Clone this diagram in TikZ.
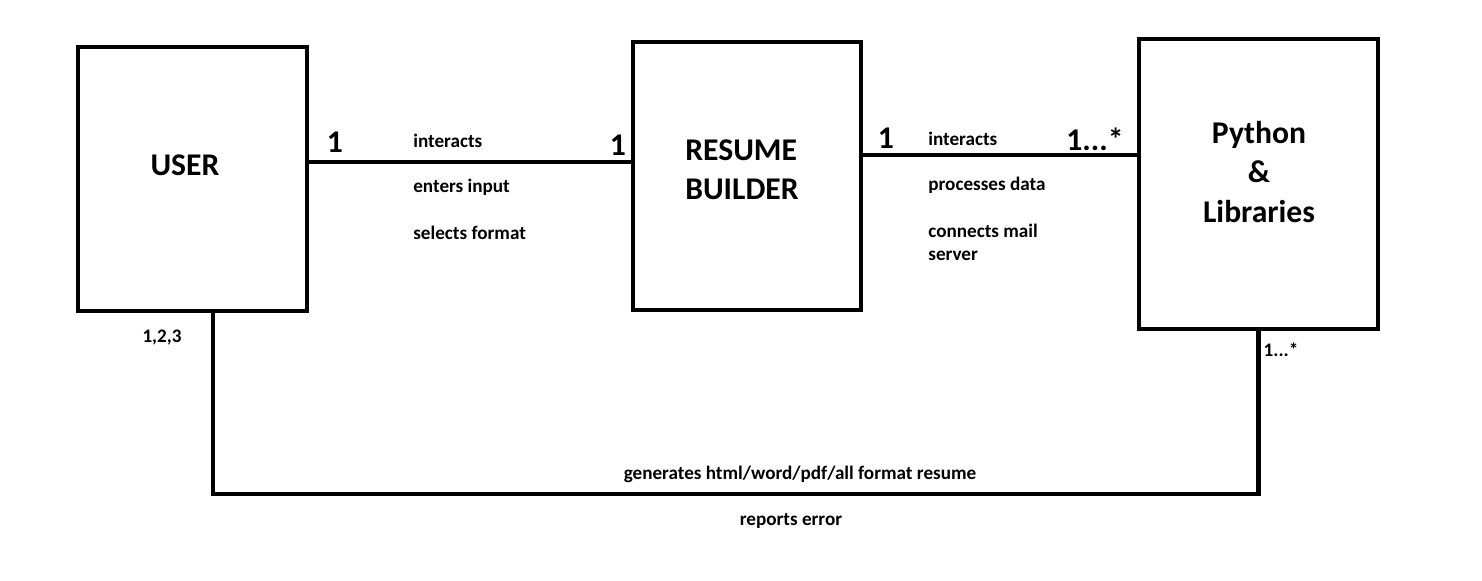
\documentclass[tikz,border=0pt]{standalone}
\usepackage{fontspec}
\setmainfont{Carlito}
\usepackage{tikz}
\usetikzlibrary{calc, positioning}

\begin{document}
\begin{tikzpicture}[x=0.02cm, y=-0.02cm]
 \tikzset{node style box/.style={draw, line width=2.5pt, inner sep=0pt, minimum width=#1}}
 \tikzset{node style big/.style={font=\fontsize{18}{22}\selectfont\bfseries, inner sep=0pt, align=left}}
 \tikzset{node style lbl/.style={font=\fontsize{10.9}{13.2}\selectfont\bfseries, inner sep=0pt, anchor=west, align=left}}
 \tikzset{link/.style={line width=2.5pt}}
 \useasboundingbox (0,0) rectangle (1482,581);

 % boxes
 \node (user) [node style box=229*0.02cm, minimum height=264*0.02cm] at (192.5,179) {};
 \node (rb)   [node style box=228*0.02cm, minimum height=268*0.02cm] at (747,176) {};
 \node (lib)  [node style box=239*0.02cm, minimum height=290*0.02cm] at (1258.5,184) {};

 \node (userT) [node style big] at (185,165) {USER};
 \node (rbT)   [node style big, anchor=west] at (685,170) {RESUME\\BUILDER};
 \node (libT)  [node style big, align=center, font=\fontsize{18}{22.3}\selectfont\bfseries] at (1259,172) {Python\\\&\\Libraries};

 % connectors
 \coordinate (lnA) at (0,162);
 \coordinate (lnB) at (0,155);
 \coordinate (dn) at (213,494);
 \draw [link] (user.east |- lnA) -- (rb.west |- lnA);
 \draw [link] (rb.east |- lnB) -- (lib.west |- lnB);
 \draw [link] (user.south -| dn) -- (dn) -| (lib.south);

 % multiplicities
 \node (m1) [node style big] at (335,142) {1};
 \node (m2) [node style big] at (618,145) {1};
 \node (m3) [node style big] at (886,138) {1};
 \node (m4) [node style big] at (1095,139) {1...*};
 \node (m5) [node style lbl, anchor=center] at (162,338) {1,2,3};
 \node (m6) [node style lbl, anchor=center] at (1281,350) {1...*};

 % roles
 \node (a1) [node style lbl] at (413,141) {interacts};
 \node (a2) [node style lbl] at (413,187) {enters input};
 \node (a3) [node style lbl] at (413,233) {selects format};
 \node (b1) [node style lbl] at (928,139) {interacts};
 \node (b2) [node style lbl] at (928,185) {processes data};
 \node (b3) [node style lbl] at (928,242) {connects mail\\server};
 \node (c1) [node style lbl, anchor=center] at (800,474) {generates html/word/pdf/all format resume};
 \node (c2) [node style lbl, anchor=center] at (791,521) {reports error};
\end{tikzpicture}
\end{document}
